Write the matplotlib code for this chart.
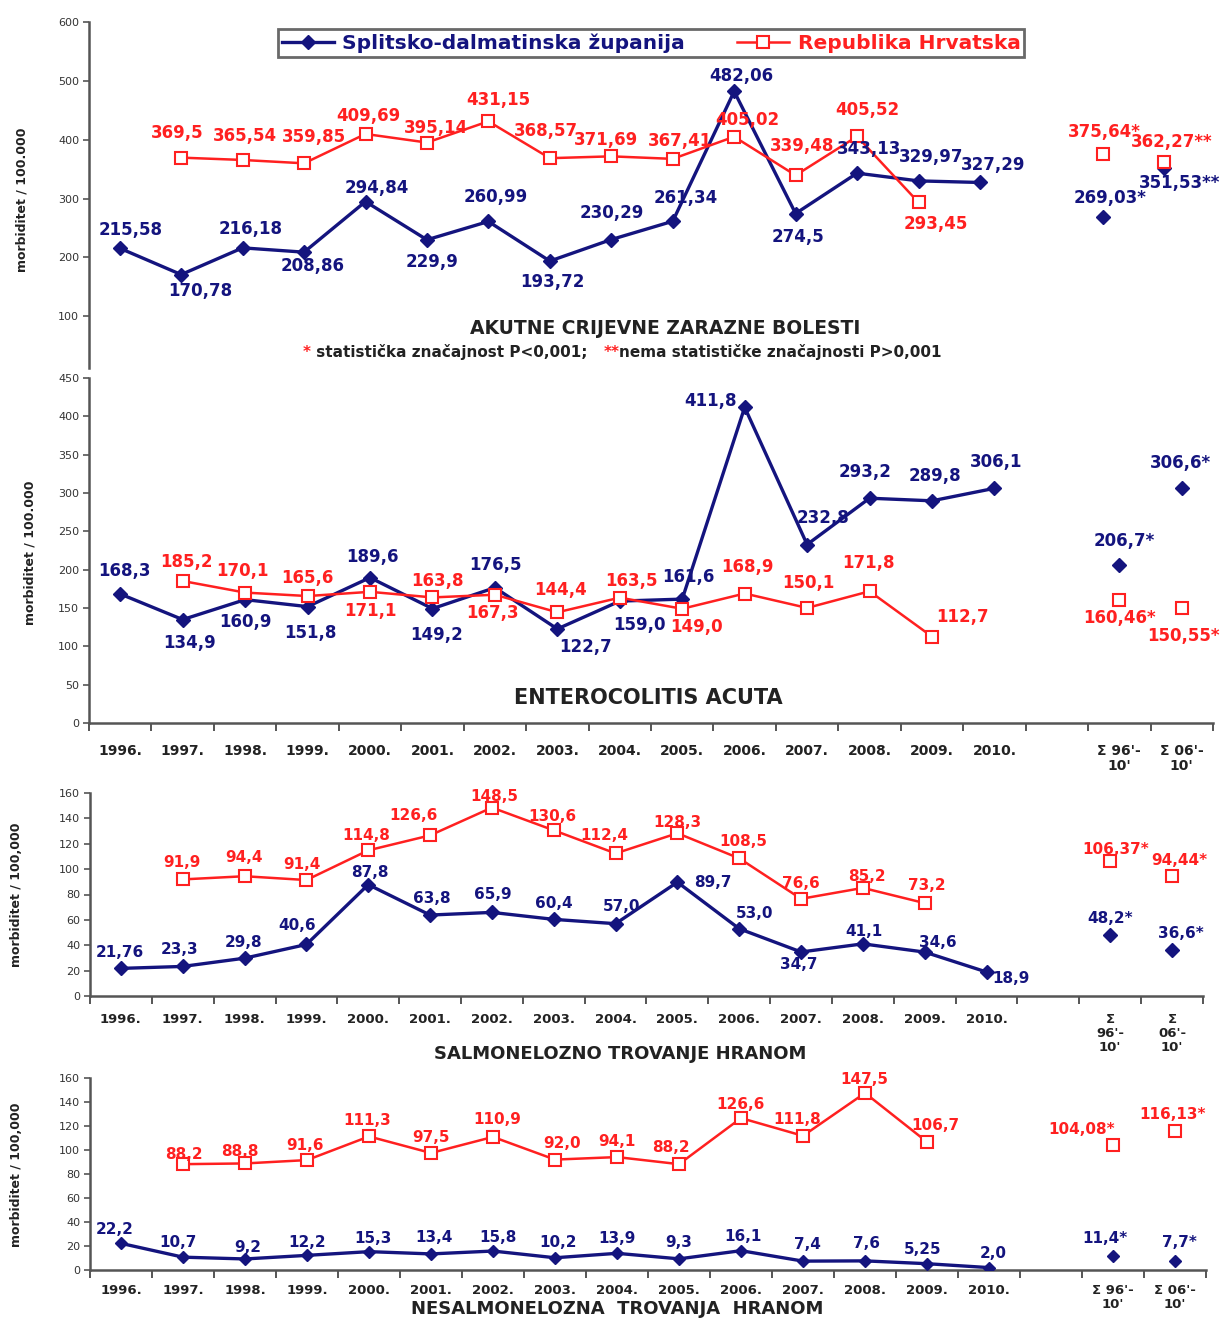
import numpy as np
import matplotlib
matplotlib.use("Agg")
import matplotlib.pyplot as plt
from matplotlib.lines import Line2D

W, H = 1222, 1319
NAVY = "#14147e"
RED = "#ff2020"
AXC = "#555555"

years = ["1996.", "1997.", "1998.", "1999.", "2000.", "2001.", "2002.", "2003.",
         "2004.", "2005.", "2006.", "2007.", "2008.", "2009.", "2010."]
sum_labels_a = ["\u03a3 96'-\n10'", "\u03a3 06'-\n10'"]
sum_labels_b = ["\u03a3\n96'-\n10'", "\u03a3\n06'-\n10'"]

# AKUTNE CRIJEVNE ZARAZNE BOLESTI (Splitsko-dalmatinska 1996-2010, RH 1997-2009)
acz_sdz = [215.58, 170.78, 216.18, 208.86, 294.84, 229.9, 260.99, 193.72,
           230.29, 261.34, 482.06, 274.5, 343.13, 329.97, 327.29]
acz_rh = [369.5, 365.54, 359.85, 409.69, 395.14, 431.15, 368.57, 371.69,
          367.41, 405.02, 339.48, 405.52, 293.45]
acz_sdz_sum = [269.03, 351.53]
acz_rh_sum = [375.64, 362.27]
acz_stars = ["*", "**"]

# ENTEROCOLITIS ACUTA
ent_sdz = [168.3, 134.9, 160.9, 151.8, 189.6, 149.2, 176.5, 122.7,
           159.0, 161.6, 411.8, 232.8, 293.2, 289.8, 306.1]
ent_rh = [185.2, 170.1, 165.6, 171.1, 163.8, 167.3, 144.4, 163.5,
          149.0, 168.9, 150.1, 171.8, 112.7]
ent_sdz_sum = [206.7, 306.6]
ent_rh_sum = [160.46, 150.55]
ent_stars = ["*", "*"]

# SALMONELOZNO TROVANJE HRANOM
sal_sdz = [21.76, 23.3, 29.8, 40.6, 87.8, 63.8, 65.9, 60.4,
           57.0, 89.7, 53.0, 34.7, 41.1, 34.6, 18.9]
sal_rh = [91.9, 94.4, 91.4, 114.8, 126.6, 148.5, 130.6, 112.4,
          128.3, 108.5, 76.6, 85.2, 73.2]
sal_sdz_sum = [48.2, 36.6]
sal_rh_sum = [106.37, 94.44]
sal_stars = ["*", "*"]

# NESALMONELOZNA TROVANJA HRANOM
nes_sdz = [22.2, 10.7, 9.2, 12.2, 15.3, 13.4, 15.8, 10.2,
           13.9, 9.3, 16.1, 7.4, 7.6, 5.25, 2.0]
nes_rh = [88.2, 88.8, 91.6, 111.3, 97.5, 110.9, 92.0, 94.1,
          88.2, 126.6, 111.8, 147.5, 106.7]
nes_sdz_sum = [11.4, 7.7]
nes_rh_sum = [104.08, 116.13]
nes_stars = ["*", "*"]

# label offsets in pixels (dx, dy)
acz_sdz_off = [(11, 18), (19, -16), (8, 19), (9, -14), (11, 14), (5, -22), (7, 24), (3, -21),
               (1, 27), (13, 23), (7, 15), (2, -23), (12, 24), (13, 24), (13, 17), (7, 19), (15, -15)]
acz_rh_off = [(-4, 25), (2, 24), (10, 26), (3, 18), (9, 15), (10, 21), (-4, 27), (-5, 16),
              (7, 18), (13, 17), (6, 29), (10, 26), (17, -22), (1, 22), (7, 20)]
ent_sdz_off = [(4, 23), (7, -23), (0, -22), (3, -26), (2, 21), (4, -26), (1, 23), (28, -18),
               (20, -24), (6, 22), (-34, 6), (16, 27), (-4, 26), (3, 25), (2, 26), (5, 24), (-1, 25)]
ent_rh_off = [(4, 19), (-3, 22), (0, 18), (0, -19), (5, 16), (-2, -18), (3, 22), (12, 17),
              (14, -18), (3, 27), (1, 25), (-1, 28), (30, 20), (0, -18), (2, -28)]
sal_sdz_off = [(-1, 16), (-3, 17), (-1, 16), (-9, 19), (2, 12), (2, 17), (1, 18), (0, 16),
               (6, 17), (35, 0), (15, 15), (-2, -13), (1, 12), (13, 10), (24, -6), (0, 16), (9, 16)]
sal_rh_off = [(-1, 17), (-1, 19), (-4, 16), (-2, 15), (-17, 20), (2, 11), (-1, 14), (-11, 18),
              (0, 11), (4, 17), (0, 15), (4, 11), (2, 18), (5, 12), (7, 16)]
nes_sdz_off = [(-6, 14), (-5, 15), (3, 11), (0, 13), (4, 13), (3, 16), (5, 14), (3, 15),
               (0, 15), (0, 16), (2, 14), (4, 17), (2, 17), (-4, 14), (4, 14), (-8, 18), (4, 18)]
nes_rh_off = [(1, 10), (-5, 12), (-2, 15), (-2, 16), (0, 15), (4, 17), (7, 16), (0, 16),
              (-8, 17), (0, 14), (-6, 16), (-1, 14), (8, 16), (-31, 16), (-2, 16)]

plt.rcParams["font.family"] = ["DejaVu Sans"]
fig = plt.figure(figsize=(W / 100, H / 100), dpi=100)


def px_axes(l, t, r, b):
    return fig.add_axes([l / W, 1 - b / H, (r - l) / W, (b - t) / H])


def ftext(x, y, s, **kw):
    return fig.text(x / W, 1 - y / H, s, **kw)


def fmt(v):
    return repr(float(v)).replace(".", ",")


def draw_panel(ax, sdz, rh, sdz_sum, rh_sum, stars, off_sdz, off_rh,
               fs, dia_ms, sq_ms):
    x_sdz = np.arange(len(sdz))
    x_rh = np.arange(1, 1 + len(rh))
    x_sum = np.array([16, 17])
    ax.plot(x_sdz, sdz, color=NAVY, lw=2.4, marker="D", ms=dia_ms, mfc=NAVY, mec=NAVY, zorder=3)
    ax.plot(x_sum, sdz_sum, ls="none", marker="D", ms=dia_ms, mfc=NAVY, mec=NAVY, zorder=3)
    ax.plot(x_rh, rh, color=RED, lw=1.8, marker="s", ms=sq_ms, mfc="white", mec=RED, mew=1.5, zorder=4)
    ax.plot(x_sum, rh_sum, ls="none", marker="s", ms=sq_ms, mfc="white", mec=RED, mew=1.5, zorder=4)

    pts_sdz = list(zip(x_sdz, sdz, [""] * len(sdz))) + list(zip(x_sum, sdz_sum, stars))
    pts_rh = list(zip(x_rh, rh, [""] * len(rh))) + list(zip(x_sum, rh_sum, stars))
    for (x, v, st), (dx, dy) in zip(pts_sdz, off_sdz):
        ax.annotate(fmt(v) + st, (x, v), xytext=(dx, dy), textcoords="offset pixels",
                    ha="center", va="center", color=NAVY, fontsize=fs,
                    fontweight="bold", annotation_clip=False, zorder=5)
    for (x, v, st), (dx, dy) in zip(pts_rh, off_rh):
        ax.annotate(fmt(v) + st, (x, v), xytext=(dx, dy), textcoords="offset pixels",
                    ha="center", va="center", color=RED, fontsize=fs,
                    fontweight="bold", annotation_clip=False, zorder=5)

    ax.set_xlim(-0.5, 17.5)
    for s in ["top", "right"]:
        ax.spines[s].set_visible(False)
    for s in ["left", "bottom"]:
        ax.spines[s].set_color(AXC)
        ax.spines[s].set_linewidth(1.8)
    ax.tick_params(axis="y", labelsize=8, labelcolor="#333333", color=AXC,
                   length=4, width=1.2, pad=3)


def set_xcats(ax, sum_labels, fs):
    ax.set_xticks(np.arange(18))
    ax.set_xticklabels(years + [""] + sum_labels, fontsize=fs, fontweight="bold",
                       color="#222222", linespacing=1.1, va="top")
    ax.set_xticks(np.arange(-0.5, 18), minor=True)
    ax.tick_params(axis="x", which="major", length=0, pad=12)
    ax.tick_params(axis="x", which="minor", length=6, width=1.4, color=AXC)


# panel 1
ax1 = px_axes(89, 22, 1195, 368)
draw_panel(ax1, acz_sdz, acz_rh, acz_sdz_sum, acz_rh_sum, acz_stars,
           acz_sdz_off, acz_rh_off, 12, 7.5, 9)
ax1.set_ylim(12, 600)
ax1.set_yticks([100, 200, 300, 400, 500, 600])
ax1.spines["bottom"].set_visible(False)
ax1.set_xticks([])

handles = [Line2D([], [], color=NAVY, lw=2.4, marker="D", ms=7, mfc=NAVY, mec=NAVY),
           Line2D([], [], color=RED, lw=1.8, marker="s", ms=8, mfc="white", mec=RED, mew=1.5)]
leg = ax1.legend(handles, ["Splitsko-dalmatinska \u017eupanija", "Republika Hrvatska"],
                 ncol=2, loc="center", bbox_to_anchor=(651 / W, 1 - 43 / H),
                 bbox_transform=fig.transFigure, frameon=True, fancybox=False,
                 edgecolor="#444444", borderpad=0.2, handlelength=2.6,
                 handletextpad=0.4, columnspacing=2.6, labelcolor="linecolor",
                 prop={"weight": "bold", "size": 14.5})
leg.get_frame().set_linewidth(2)

ftext(665, 328, "AKUTNE CRIJEVNE ZARAZNE BOLESTI", ha="center", va="center",
      fontsize=13.5, fontweight="bold", color="#222222")
t = ftext(303, 353, "*", ha="left", va="center", fontsize=11, fontweight="bold", color=RED)
t = ax1.annotate(" statisti\u010dka zna\u010dajnost P<0,001;   ", xy=(1, 0), xycoords=t,
                 ha="left", va="bottom", fontsize=11, fontweight="bold", color="#222222",
                 annotation_clip=False)
t = ax1.annotate("**", xy=(1, 0), xycoords=t, ha="left", va="bottom", fontsize=11,
                 fontweight="bold", color=RED, annotation_clip=False)
ax1.annotate("nema statisti\u010dke zna\u010dajnosti P>0,001", xy=(1, 0), xycoords=t,
             ha="left", va="bottom", fontsize=11, fontweight="bold", color="#222222",
             annotation_clip=False)
ftext(22, 200, "morbiditet / 100.000", rotation=90, ha="center", va="center",
      fontsize=9, fontweight="bold", color="#222222")

# panel 2
ax2 = px_axes(89, 378, 1213, 723)
draw_panel(ax2, ent_sdz, ent_rh, ent_sdz_sum, ent_rh_sum, ent_stars,
           ent_sdz_off, ent_rh_off, 12, 7.5, 8)
ax2.set_ylim(0, 450)
ax2.set_yticks(np.arange(0, 451, 50))
set_xcats(ax2, sum_labels_a, 10)
ax2.tick_params(axis="x", which="major", pad=15)
ftext(648, 698, "ENTEROCOLITIS ACUTA", ha="center", va="center",
      fontsize=15, fontweight="bold", color="#222222")
ftext(30, 553, "morbiditet / 100.000", rotation=90, ha="center", va="center",
      fontsize=9, fontweight="bold", color="#222222")

# panel 3
ax3 = px_axes(90, 793, 1203, 996)
draw_panel(ax3, sal_sdz, sal_rh, sal_sdz_sum, sal_rh_sum, sal_stars,
           sal_sdz_off, sal_rh_off, 11, 7, 8)
ax3.set_ylim(0, 160)
ax3.set_yticks(np.arange(0, 161, 20))
set_xcats(ax3, sum_labels_b, 9.5)
ftext(620, 1054, "SALMONELOZNO TROVANJE HRANOM", ha="center", va="center",
      fontsize=13, fontweight="bold", color="#222222")
ftext(17, 895, "morbiditet / 100,000", rotation=90, ha="center", va="center",
      fontsize=9, fontweight="bold", color="#222222")

# panel 4
ax4 = px_axes(90, 1078, 1206, 1270)
draw_panel(ax4, nes_sdz, nes_rh, nes_sdz_sum, nes_rh_sum, nes_stars,
           nes_sdz_off, nes_rh_off, 11, 6.5, 8)
ax4.set_ylim(0, 160)
ax4.set_yticks(np.arange(0, 161, 20))
set_xcats(ax4, sum_labels_a, 9.5)
ax4.tick_params(axis="x", which="major", pad=10)
ftext(617, 1309, "NESALMONELOZNA  TROVANJA  HRANOM", ha="center", va="center",
      fontsize=13, fontweight="bold", color="#222222")
ftext(17, 1175, "morbiditet / 100,000", rotation=90, ha="center", va="center",
      fontsize=9, fontweight="bold", color="#222222")

fig.savefig("out.png", dpi=100)
